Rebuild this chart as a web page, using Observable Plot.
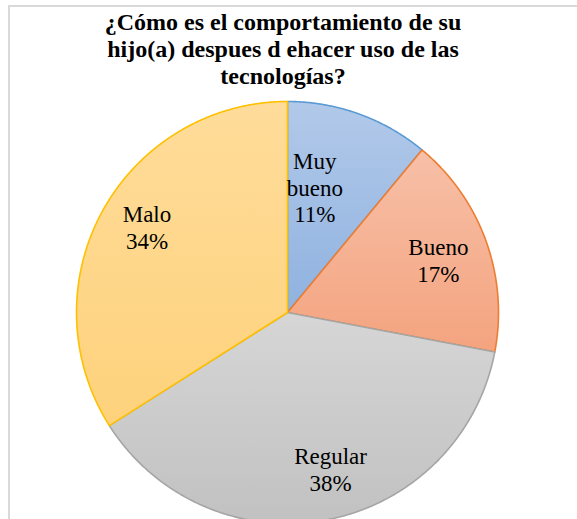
<!DOCTYPE html>
<html>
<head>
<meta charset="utf-8">
<script src="https://cdn.jsdelivr.net/npm/d3@7"></script>
<script src="https://cdn.jsdelivr.net/npm/@observablehq/plot@0.6"></script>
<style>
  html, body { margin: 0; padding: 0; background: #fff; }
  #wrap { position: relative; width: 577px; height: 519px; overflow: hidden; }
  #frame { position: absolute; left: 8px; top: 5px; right: -4px; bottom: -4px;
           border-left: 2px solid #d9d9d9; border-top: 2px solid #d9d9d9; }
  #title { position: absolute; left: 0; width: 566px; top: 9px; text-align: center;
           font-family: "Liberation Serif", "Times New Roman", serif; font-weight: bold;
           font-size: 24px; line-height: 27px; color: #000; }
  #chart { position: absolute; left: 0; top: 0; }
</style>
</head>
<body>
<div id="wrap">
  <div id="frame"></div>
  <div id="chart"></div>
  <div id="title">¿Cómo es el comportamiento de su<br>hijo(a) despues d ehacer uso de las<br>tecnologías?</div>
</div>
<script>
// ---- data ----
const categories = ["Muy bueno", "Bueno", "Regular", "Malo"];
const values = [11, 17, 38, 34];
const labelNames = ["Muy\nbueno", "Bueno", "Regular", "Malo"];

// ---- style / layout ----
const strokeColors = ["#5b9bd5", "#ed7d31", "#a5a5a5", "#ffc000"];
const gradTop = ["#b2c9e9", "#f7c0a8", "#d6d6d6", "#ffdc9a"];
const gradBottom = ["#8fb2e0", "#f4a37e", "#c1c1c1", "#fed27c"];
const labelRadius = [0.62, 0.76, 0.76, 0.76];
const labelDx = [-17, 0, 13, 0];
const labelDy = [-2, 2, -1, -8];
const W = 577, H = 519, R = 211, CX = 287, CY = 312;
const SERIF = '"Liberation Serif", "Times New Roman", serif';

const arcs = d3.pie().sort(null).value(d => d)(values);

function slicePoints(a) {
  const pts = [{x: 0, y: 0}];
  const n = Math.max(2, Math.ceil((a.endAngle - a.startAngle) / 0.005));
  for (let i = 0; i <= n; i++) {
    const t = a.startAngle + (a.endAngle - a.startAngle) * i / n;
    pts.push({x: Math.sin(t), y: Math.cos(t)});
  }
  pts.push({x: 0, y: 0});
  return pts;
}

const labelData = arcs.map((a, i) => {
  const m = (a.startAngle + a.endAngle) / 2;
  return {
    x: Math.sin(m) * labelRadius[i],
    y: Math.cos(m) * labelRadius[i],
    text: labelNames[i] + "\n" + values[i] + "%",
    i
  };
});

const defs = () => {
  const d = d3.create("svg:defs");
  categories.forEach((c, i) => {
    const g = d.append("linearGradient").attr("id", "g" + i)
      .attr("x1", 0).attr("y1", 0).attr("x2", 0).attr("y2", 1);
    g.append("stop").attr("offset", "0%").attr("stop-color", gradTop[i]);
    g.append("stop").attr("offset", "100%").attr("stop-color", gradBottom[i]);
  });
  return d.node();
};

const sliceMarks = arcs.map((a, i) =>
  Plot.line(slicePoints(a), {
    x: "x", y: "y",
    fill: `url(#g${i})`,
    stroke: strokeColors[i],
    strokeWidth: 1.6,
    strokeLinejoin: "round"
  })
);

const textMarks = labelData.map(d =>
  Plot.text([d], {
    x: "x", y: "y", text: "text",
    dx: labelDx[d.i],
    dy: labelDy[d.i],
    fontFamily: SERIF,
    fontSize: 23,
    lineHeight: 1.15,
    fill: "#000",
    textAnchor: "middle"
  })
);

const chart = Plot.plot({
  width: W,
  height: H,
  margin: 0,
  x: {domain: [-CX / R, (W - CX) / R], axis: null},
  y: {domain: [-(H - CY) / R, CY / R], axis: null},
  style: {background: "transparent", overflow: "visible", fontFamily: SERIF},
  marks: [defs, ...sliceMarks, ...textMarks]
});
document.getElementById("chart").appendChild(chart);
</script>
</body>
</html>
